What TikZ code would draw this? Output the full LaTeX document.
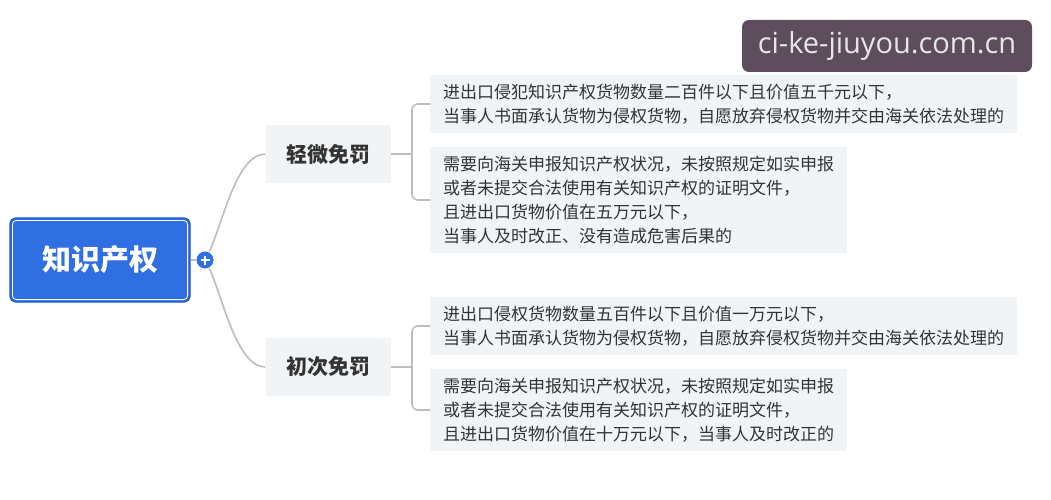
\documentclass[tikz,border=0pt]{standalone}
\usepackage{fontspec}
\newfontfamily\cjk{Noto Sans CJK SC}
\newfontfamily\wmfont{Open Sans}
\definecolor{rootblue}{HTML}{2F6FE2}
\definecolor{rootedge}{HTML}{2259C8}
\definecolor{boxbg}{HTML}{F1F4F6}
\definecolor{txt}{HTML}{333333}
\definecolor{linegray}{HTML}{BDBDBD}
\definecolor{wmbg}{HTML}{5D4D5D}
\definecolor{wmtxt}{HTML}{E6E6E6}
\begin{document}
\begin{tikzpicture}[x=1pt,y=-1pt,
  rootbox/.style={fill=rootblue,draw=rootedge,line width=1.2pt,rounded corners=6pt,minimum width=180pt,minimum height=84pt,inner sep=0pt,text=white,font=\cjk\bfseries\fontsize{29}{32}\selectfont},
  catbox/.style={fill=boxbg,minimum width=125pt,minimum height=58pt,inner sep=0pt,text=txt,font=\cjk\bfseries\fontsize{21}{24}\selectfont},
  leafbox/.style={fill=boxbg,anchor=west,align=left,inner xsep=13pt,inner ysep=9pt,text=txt,font=\cjk\fontsize{17}{24}\selectfont},
  conn/.style={draw=linegray,line width=1.6pt},
  plusnode/.style={circle,fill=rootblue,draw=white,line width=0.8pt,minimum size=18pt,inner sep=0pt}
]
\useasboundingbox[fill=white] (0,0) rectangle (1051,500);

% root
\node[rootbox] (root) at (100,260) {知识产权};
\draw[white,line width=0.8pt,rounded corners=4pt] ([xshift=3pt,yshift=-3pt]root.north west) rectangle ([xshift=-3pt,yshift=3pt]root.south east);

% categories
\node[catbox] (cat1) at (328,154) {轻微免罚};
\node[catbox] (cat2) at (328,367) {初次免罚};

% leaves
\node[leafbox] (l1) at (430,104) {进出口侵犯知识产权货物数量二百件以下且价值五千元以下，\\当事人书面承认货物为侵权货物，自愿放弃侵权货物并交由海关依法处理的};
\node[leafbox] (l2) at (430,200) {需要向海关申报知识产权状况，未按照规定如实申报\\或者未提交合法使用有关知识产权的证明文件，\\且进出口货物价值在五万元以下，\\当事人及时改正、没有造成危害后果的};
\node[leafbox] (l3) at (430,326) {进出口侵权货物数量五百件以下且价值一万元以下，\\当事人书面承认货物为侵权货物，自愿放弃侵权货物并交由海关依法处理的};
\node[leafbox] (l4) at (430,410) {需要向海关申报知识产权状况，未按照规定如实申报\\或者未提交合法使用有关知识产权的证明文件，\\且进出口货物价值在十万元以下，当事人及时改正的};

% plus
\node[plusnode] (plus) at (205,260) {};
\draw[conn] (root.east) -- (plus.west);
\draw[conn] (plus) .. controls (222,226) and (236,154) .. (cat1.west);
\draw[conn] (plus) .. controls (222,294) and (236,367) .. (cat2.west);
\draw[white,line width=1.6pt] ([xshift=-4.5pt]plus.center) -- ([xshift=4.5pt]plus.center);
\draw[white,line width=1.6pt] ([yshift=-4.5pt]plus.center) -- ([yshift=4.5pt]plus.center);

% brackets
\coordinate (j1) at (412,154);
\coordinate (j2) at (412,367);
\draw[conn] (cat1.east) -- (j1);
\draw[conn,rounded corners=6pt] (l1.west) -| (j1) |- (l2.west);
\draw[conn] (cat2.east) -- (j2);
\draw[conn,rounded corners=6pt] (l3.west) -| (j2) |- (l4.west);

% watermark
\node[fill=wmbg,rounded corners=7pt,minimum width=290pt,minimum height=52pt,inner sep=0pt,text=wmtxt,font=\wmfont\fontsize{29}{32}\selectfont] (wm) at (887,46) {ci-ke-jiuyou.com.cn};
\end{tikzpicture}
\end{document}
